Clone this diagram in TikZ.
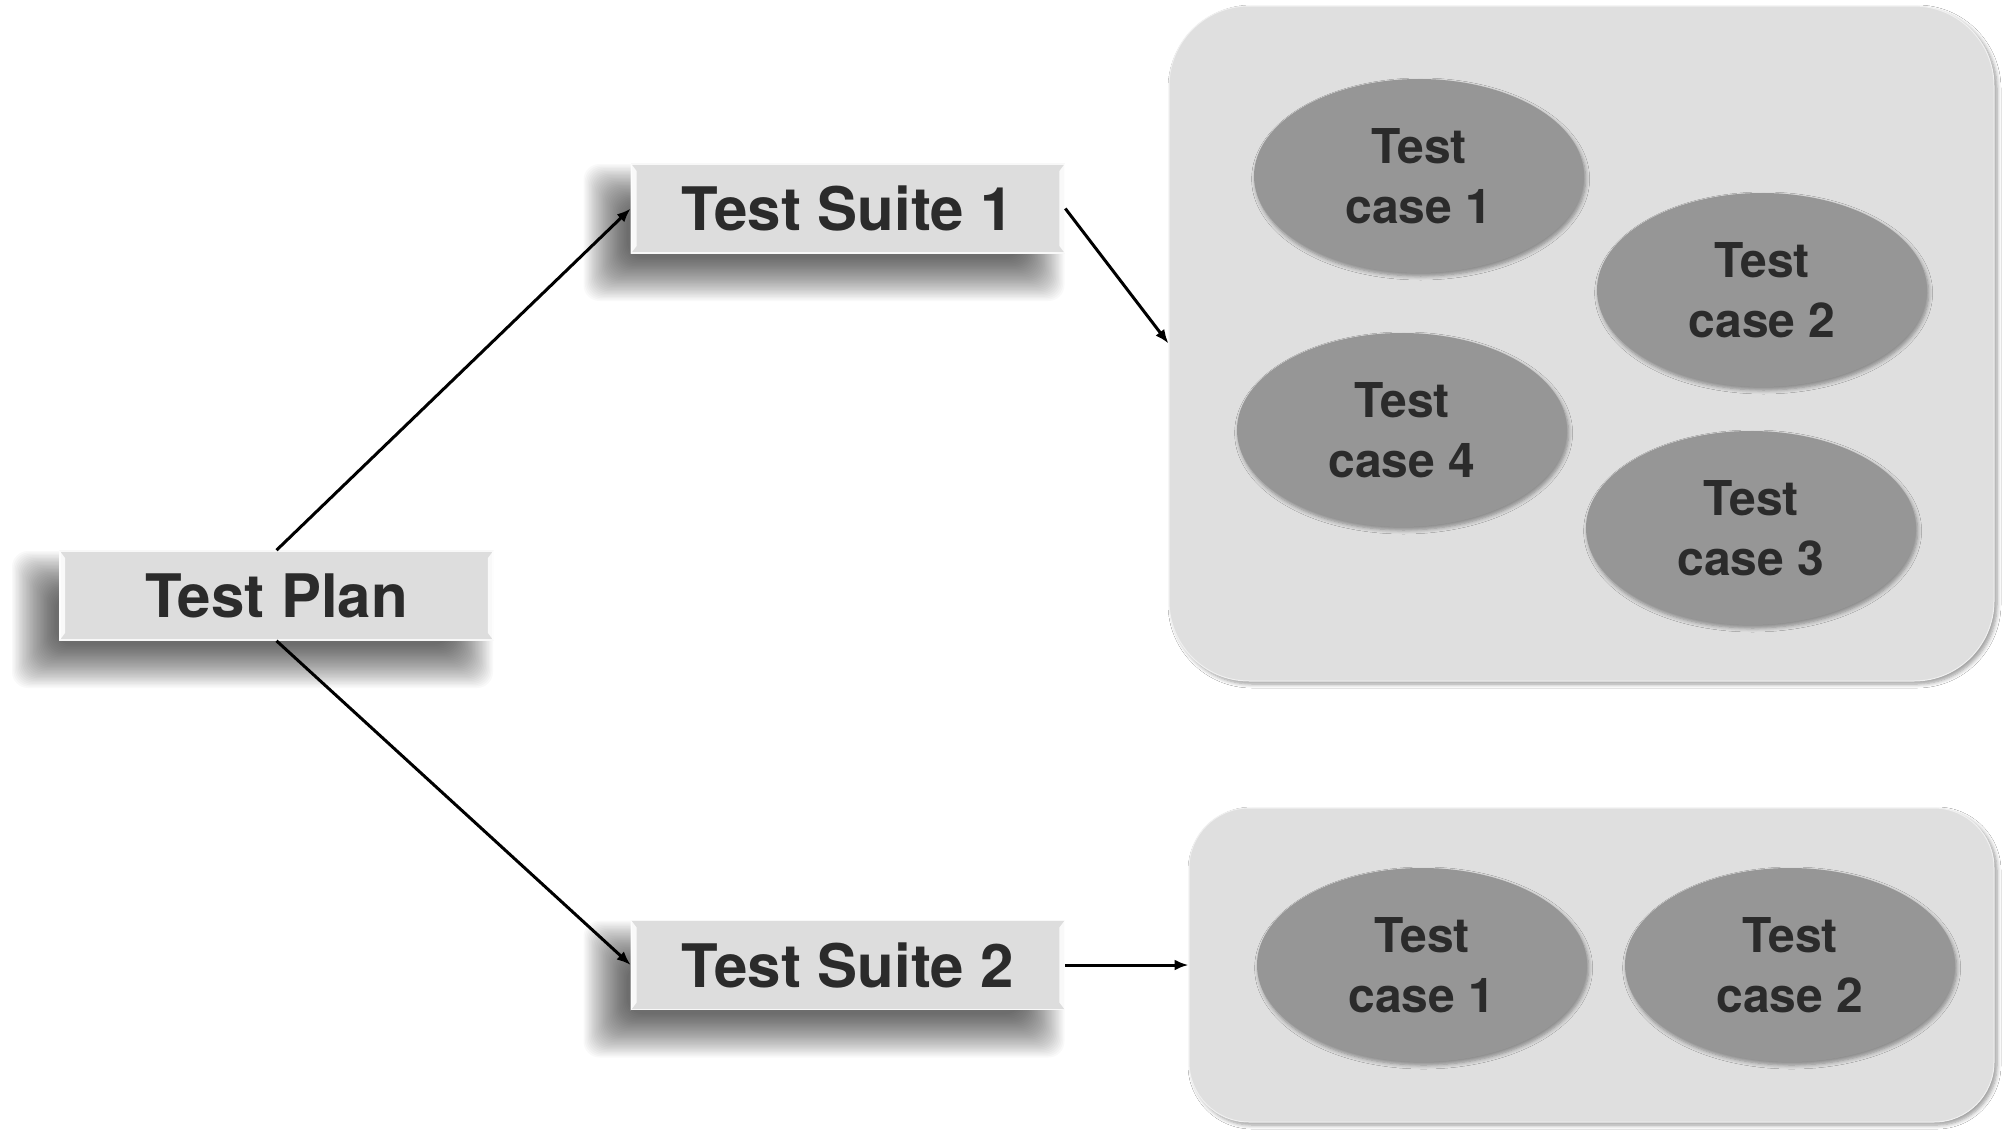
\documentclass[tikz,border=0pt]{standalone}
\usepackage{fontspec}
\setmainfont{TeX Gyre Heros}
\usetikzlibrary{shadows.blur,arrows.meta,shapes.geometric}
\definecolor{boxfill}{HTML}{DDDDDD}
\definecolor{panelfill}{HTML}{DFDFDF}
\definecolor{ellfill}{HTML}{969696}
\definecolor{txt}{HTML}{2B2B2B}
\newcommand\bevelbox[1]{%
  \fill[white,opacity=0.85] (#1.north west) -- ([shift={(6,8)}]#1.north west) -- ([shift={(6,-8)}]#1.south west) -- (#1.south west) -- cycle;
  \fill[white,opacity=0.85] (#1.north east) -- ([shift={(-6,8)}]#1.north east) -- ([shift={(-6,-8)}]#1.south east) -- (#1.south east) -- cycle;
}
% soft shadow around a box of half size 216.5 x 44.5 (px) centred at a named coordinate
\newcommand\softshadow[1]{%
  \foreach \k in {0,...,31} {
    \pgfmathsetmacro\e{24-1.4*\k}
    \fill[black, opacity=0.024, rounded corners=8pt]
      ([shift={(-24-216.5-\e,24-44.5-\e)}]#1) rectangle ([shift={(-24+216.5+\e,24+44.5+\e)}]#1);
  }
}
\begin{document}
\begin{tikzpicture}[x=0.5pt,y=-0.5pt,
  boxnode/.style={rectangle, fill=boxfill, draw=white!80!boxfill, line width=0.8pt,
    minimum width=216.5pt, minimum height=44.5pt, inner sep=0pt,
    font=\fontsize{30}{36}\selectfont\bfseries, text=txt},
  panel/.style={rectangle, fill=panelfill, draw=black!6, line width=0.5pt, inner sep=0pt,
    blur shadow={shadow xshift=1.5pt, shadow yshift=-1.5pt, shadow blur radius=2pt, shadow blur steps=6, shadow opacity=40}},
  tc/.style={ellipse, fill=ellfill, inner sep=0pt, minimum width=165pt, minimum height=97pt,
    align=center, font=\fontsize{24}{30}\selectfont\bfseries, text=txt,
    blur shadow={shadow xshift=0.8pt, shadow yshift=-1.5pt, shadow blur radius=2pt, shadow blur steps=6, shadow opacity=40}},
  conn/.style={line width=1.5pt, -{Latex[length=7pt,width=5.5pt]}}
]
\useasboundingbox (0,0) rectangle (2004,1135);
\fill[white] (0,0) rectangle (2004,1135);

% panels
\node[panel, minimum width=412.5pt, minimum height=337.5pt, rounded corners=40pt] (p1) at (1581.5,343.5) {};
\node[panel, minimum width=402.5pt, minimum height=157pt, rounded corners=30pt] (p2) at (1591.5,965) {};

% test cases in suite 1
\node[tc] (a1) at (1419,176) {Test\\case 1};
\node[tc] (a2) at (1762,290) {Test\\case 2};
\node[tc] (a4) at (1402,430) {Test\\case 4};
\node[tc] (a3) at (1751,528) {Test\\case 3};

% test cases in suite 2
\node[tc] (b1) at (1422,965) {Test\\case 1};
\node[tc] (b2) at (1790,965) {Test\\case 2};

% boxes with soft drop shadows
\coordinate (cplan) at (276.5,595.5);
\coordinate (cs1) at (848,208.5);
\coordinate (cs2) at (848,965);
\softshadow{cplan}
\softshadow{cs1}
\softshadow{cs2}
\node[boxnode] (plan) at (cplan) {Test Plan};
\node[boxnode] (s1) at (cs1) {Test Suite 1};
\node[boxnode] (s2) at (cs2) {Test Suite 2};
\bevelbox{plan}
\bevelbox{s1}
\bevelbox{s2}

% connectors
\draw[conn] (plan.north) -- (s1.west);
\draw[conn] (plan.south) -- (s2.west);
\draw[conn] (s1.east) -- (p1.west);
\draw[conn] (s2.east) -- (p2.west);
\end{tikzpicture}
\end{document}
